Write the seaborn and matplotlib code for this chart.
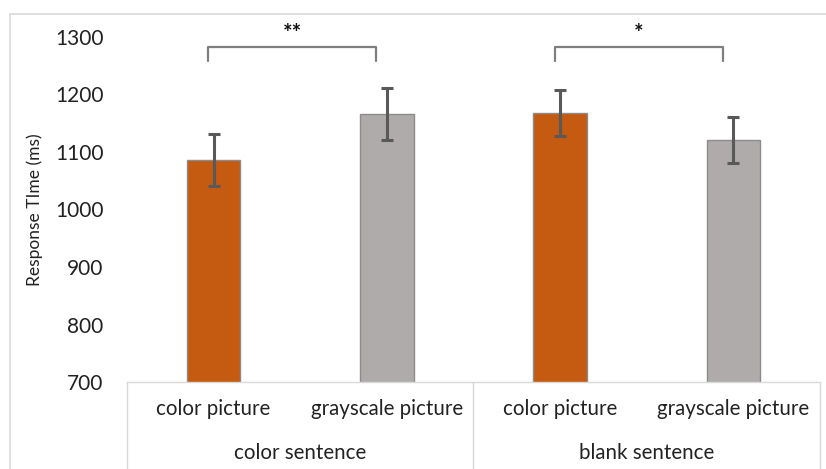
import matplotlib
matplotlib.use("Agg")
import matplotlib.pyplot as plt
import matplotlib.transforms as mtransforms
import seaborn as sns
import pandas as pd

# data
pictures = ["color picture", "grayscale picture", "color picture", "grayscale picture"]
sentences = ["color sentence", "blank sentence"]
rt_means = [1086, 1166, 1168, 1121]
rt_errors = [46, 45, 40, 40]
yticks = [700, 800, 900, 1000, 1100, 1200, 1300]
stars = ["**", "*"]

ORANGE = "#C55A11"
GREY = "#AFABAB"

sns.set_theme(style="white")
plt.rcParams["font.family"] = ["Lato", "DejaVu Sans"]

df = pd.DataFrame({
    "slot": [f"{i}" for i in range(len(pictures))],
    "picture": pictures,
    "rt": rt_means,
})

fig = plt.figure(figsize=(8.26, 4.69), dpi=100)
ax = fig.add_axes([127 / 826, 1 - 382 / 469, (820 - 127) / 826, (382 - 37) / 469])

sns.barplot(data=df, x="slot", y="rt", hue="picture",
            palette={"color picture": ORANGE, "grayscale picture": GREY},
            dodge=False, width=0.31, saturation=1, edgecolor="#8C8C8C",
            linewidth=1.0, legend=False, ax=ax)
ax.errorbar(range(len(rt_means)), rt_means, yerr=rt_errors, fmt="none",
            ecolor="#595959", elinewidth=2.2, capsize=4.5, capthick=2.2, zorder=5)

ax.set_ylim(700, 1300)
ax.set_xlim(-0.5, 3.5)
ax.set_yticks(yticks)
ax.set_yticklabels([str(t) for t in yticks], fontsize=15, color="#222222")
ax.tick_params(axis="y", length=0, pad=17)
ax.set_xticks([])
ax.set_xlabel("")
ax.set_ylabel("Response TIme (ms)", fontsize=12.5, color="#222222")
ax.yaxis.set_label_coords(-0.121, 0.5)
for s in ["top", "right", "left"]:
    ax.spines[s].set_visible(False)
ax.spines["bottom"].set_color("#D9D9D9")
ax.spines["bottom"].set_linewidth(1.0)

# hierarchical category axis
trans = mtransforms.blended_transform_factory(ax.transData, ax.transAxes)
for i, lab in enumerate(pictures):
    ax.text(i, -0.078, lab, transform=trans, ha="center", va="center",
            fontsize=14.8, color="#222222")
for g, lab in enumerate(sentences):
    ax.text(2 * g + 0.5, -0.205, lab, transform=trans, ha="center", va="center",
            fontsize=14.8, color="#222222")
for xv in [-0.5, 1.5, 3.5]:
    ax.plot([xv, xv], [0, -0.27], transform=trans, color="#D9D9D9",
            lw=1.0, clip_on=False)

# significance brackets
for g, star in enumerate(stars):
    x0, x1 = 2 * g - 0.03, 2 * g + 0.94
    ax.plot([x0, x0, x1, x1], [1258, 1283, 1283, 1258], color="#7F7F7F",
            lw=1.6, clip_on=False)
    ax.text((x0 + x1) / 2, 1306, star, ha="center", va="center",
            fontsize=16, fontweight="bold", color="#111111")

# outer chart frame
fig.patches.append(plt.Rectangle((10 / 826, -0.01), 1.0, 1 - 14 / 469 + 0.01,
                                 transform=fig.transFigure, fill=False,
                                 edgecolor="#D9D9D9", lw=1.2))

fig.savefig("out.png", dpi=100)
